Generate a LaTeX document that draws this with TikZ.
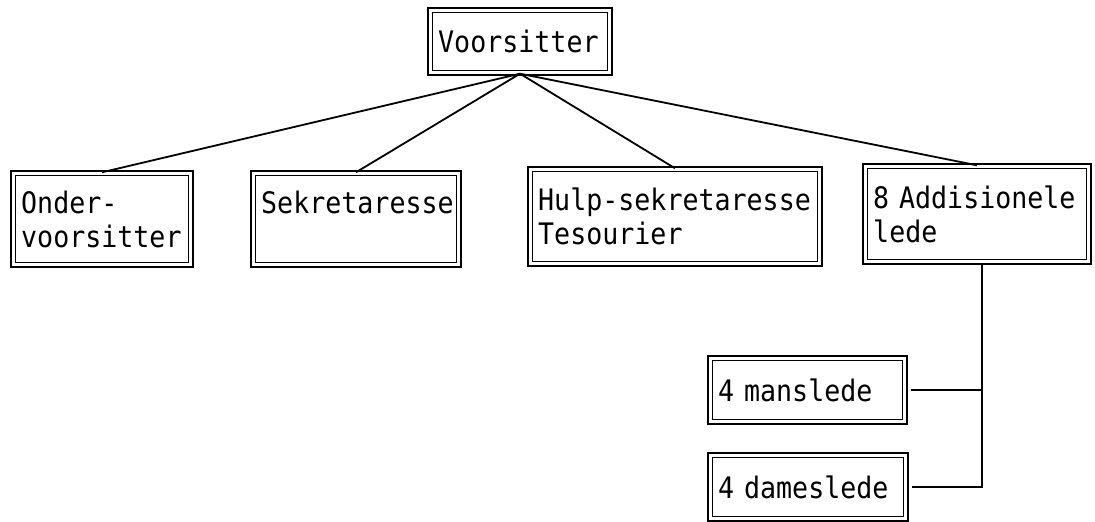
\documentclass[tikz,border=0pt]{standalone}
\usepackage{fontspec}
\newfontfamily\typefont[FakeStretch=0.9]{DejaVu Sans Mono}
\usepackage{tikz}
\usetikzlibrary{calc}

\begin{document}
\begin{tikzpicture}[x=0.5pt,y=-0.5pt,
  box/.style={draw,double,double distance=1.4pt,line width=0.9pt,
    inner xsep=4pt,inner ysep=0pt,align=left,
    font=\typefont\fontsize{14.8}{17}\selectfont}]
\useasboundingbox (0,0) rectangle (1095,522);

  \node (V) at (520,41.5) [box,minimum width=89.8pt,minimum height=31.3pt,text width=81.8pt] {Voorsitter};
  \node (O) at (102,219) [box,minimum width=88.8pt,minimum height=45.8pt,text width=80.8pt] {Onder-\\voorsitter};
  \node (S) at (356,219) [box,minimum width=102.8pt,minimum height=45.8pt,text width=94.8pt] {Sekretaresse\\\mbox{}};
  \node (H) at (675,216.5) [box,minimum width=144.8pt,minimum height=47.3pt,text width=136.8pt] {Hulp-sekretaresse\\Tesourier};
  \node (A) at (977,214) [box,minimum width=111.8pt,minimum height=47.8pt,text width=103.8pt] {8 Addisionele\\lede};
  \node (M) at (807.5,390) [box,minimum width=97.3pt,minimum height=31.8pt,text width=89.3pt] {4 manslede};
  \node (D) at (808,487) [box,minimum width=97.8pt,minimum height=31.8pt,text width=89.8pt] {4 dameslede};

  \coordinate (T) at ($(A.south)+(5,0)$);

\draw[line width=0.9pt]
   (V.south) to (O.north)
   (V.south) to (S.north)
   (V.south) to (H.north)
   (V.south) to (A.north);

\draw[line width=1pt]
   (T) |- ([xshift=2.5pt]D.east)
   ([xshift=2.5pt]M.east) to (M.east -| T);

\end{tikzpicture}
\end{document}
